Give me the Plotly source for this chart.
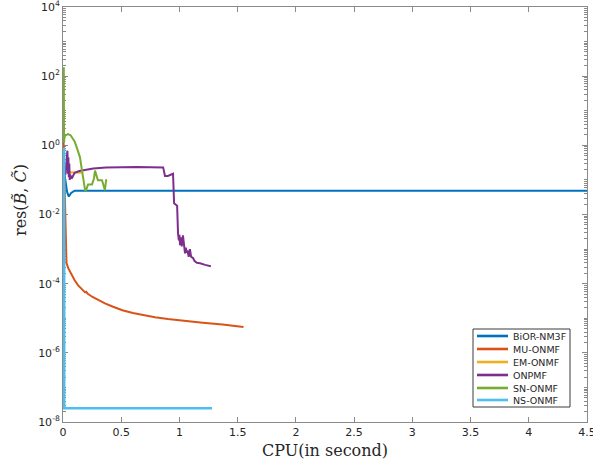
import plotly.graph_objects as go

# ---- data ----
bior_x = [0.006, 0.012, 0.02, 0.035, 0.05, 0.07, 0.1, 4.5]
bior_y = [0.2, 0.16, 0.1, 0.045, 0.033, 0.042, 0.049, 0.049]

mu_x = [0.004, 0.007, 0.012, 0.017, 0.022, 0.026, 0.03, 0.045, 0.06, 0.08, 0.1, 0.13, 0.16, 0.19, 0.2, 0.21, 0.25, 0.3,
        0.36, 0.43, 0.51, 0.6, 0.7, 0.79, 0.9, 1.07, 1.2, 1.37, 1.55]
mu_y = [1.6, 0.6, 0.05, 1.1e-2, 2e-3, 6e-4, 4e-4, 2.8e-4, 2.2e-4, 1.6e-4, 1.26e-4, 8.9e-5, 7.1e-5, 5.6e-5, 5.8e-5,
        5.2e-5, 4.2e-5, 3.4e-5, 2.7e-5, 2.15e-5, 1.7e-5, 1.41e-5, 1.2e-5, 1.07e-5, 9.5e-6, 8.1e-6, 7.4e-6, 6.6e-6, 5.6e-6]

em_x = [0.004, 0.05, 0.1, 0.16]
em_y = [0.17, 0.165, 0.16, 0.16]

onp_x = [0.02, 0.038, 0.042, 0.046, 0.05, 0.054, 0.058, 0.062, 0.075, 0.1, 0.14, 0.2, 0.26, 0.37, 0.46, 0.64, 0.86, 0.876,
         0.9, 0.945, 0.954, 0.98, 0.988, 0.995, 1.0, 1.005, 1.012, 1.02, 1.03, 1.038, 1.048, 1.055, 1.06, 1.07, 1.08,
         1.09, 1.1, 1.117, 1.13, 1.15, 1.177, 1.22, 1.27]
onp_y = [0.14, 0.7, 0.15, 0.45, 0.12, 0.3, 0.1, 0.14, 0.11, 0.16, 0.18, 0.2, 0.215, 0.23, 0.235, 0.235, 0.23, 0.13,
         0.13, 0.15, 0.021, 0.018, 0.0028, 0.0018, 0.0026, 0.0013, 0.0022, 0.0012, 0.0025, 0.0011, 0.00075, 0.0011,
         0.0008, 0.00085, 0.0006, 0.001, 0.0006, 0.00055, 0.00045, 0.0004, 0.00039, 0.00035, 0.00032]

sn_x = [0.007, 0.008, 0.009, 0.011, 0.017, 0.03, 0.043, 0.065, 0.086, 0.1, 0.112, 0.13, 0.146, 0.163, 0.177, 0.19, 0.198,
        0.215, 0.249, 0.266, 0.275, 0.292, 0.30, 0.335, 0.344, 0.36, 0.37, 0.378]
sn_y = [180.0, 10.0, 1.2, 1.5, 1.9, 2.05, 2.1, 1.95, 1.6, 1.3, 1.0, 0.7, 0.45, 0.19, 0.09, 0.05, 0.05, 0.074, 0.074,
        0.11, 0.186, 0.126, 0.098, 0.098, 0.074, 0.05, 0.098, 0.1]

ns_x = [0.009, 0.0095, 0.01, 0.0105, 1.28]
ns_y = [0.85, 1e-2, 1e-6, 2.5e-8, 2.5e-8]

names = ["BiOR-NM3F", "MU-ONMF", "EM-ONMF", "ONPMF", "SN-ONMF", "NS-ONMF"]
colors = ["#0072BD", "#D95319", "#EDB120", "#7E2F8E", "#77AC30", "#4DBEEE"]
xs = [bior_x, mu_x, em_x, onp_x, sn_x, ns_x]
ys = [bior_y, mu_y, em_y, onp_y, sn_y, ns_y]
widths = [2, 2, 2, 2, 2, 2.6]

ytick_exp = [-8, -6, -4, -2, 0, 2, 4]
xtick_vals = [0, 0.5, 1, 1.5, 2, 2.5, 3, 3.5, 4, 4.5]

# plot-area geometry (pixels) used to place the hand-drawn legend box
W, H = 593, 464
L, R, T, B = 63, 6, 7, 42
pw, ph = W - L - R, H - T - B


def px(xp):
    return (xp - L) / pw


def py(yp):
    return (H - B - yp) / ph


fig = go.Figure()
for x, y, n, c, w in zip(xs, ys, names, colors, widths):
    fig.add_trace(go.Scatter(x=x, y=y, mode="lines", name=n, showlegend=False,
                             line=dict(color=c, width=w)))

minor_vals = [m * 10 ** k for k in range(-8, 4) for m in range(1, 10)]

axcol = "#8a8a8a"
txtcol = "#262626"

shapes = [dict(type="rect", xref="paper", yref="paper",
               x0=px(473), x1=px(570), y0=py(407), y1=py(329),
               line=dict(color="#3a3a3a", width=1), fillcolor="white", layer="above")]
annotations = []
row_y = [336, 349, 362, 375, 388, 400]
for n, c, yy in zip(names, colors, row_y):
    shapes.append(dict(type="line", xref="paper", yref="paper",
                       x0=px(477), x1=px(508), y0=py(yy), y1=py(yy),
                       line=dict(color=c, width=2.6), layer="above"))
    annotations.append(dict(text=n, xref="paper", yref="paper", x=px(511), y=py(yy),
                            xanchor="left", yanchor="middle", showarrow=False,
                            font=dict(family="DejaVu Sans", size=9.5, color=txtcol)))

annotations.append(dict(text="res(<i>B̃</i>, <i>C̃</i>)", xref="paper", yref="paper",
                        x=px(20), y=py(200), xanchor="center", yanchor="middle",
                        textangle=-90, showarrow=False,
                        font=dict(family="DejaVu Serif", size=16, color=txtcol)))

fig.update_layout(
    width=W, height=H,
    margin=dict(l=L, r=R, t=T, b=B),
    paper_bgcolor="white", plot_bgcolor="white",
    font=dict(family="DejaVu Sans", size=11, color=txtcol),
    showlegend=False,
    shapes=shapes,
    annotations=annotations,
    xaxis=dict(range=[0, 4.5], tickmode="array", tickvals=xtick_vals,
               ticktext=[f"{v:g}" for v in xtick_vals], ticklabeloverflow="allow",
               automargin=False, layer="below traces",
               ticks="inside", ticklen=5, tickcolor=axcol,
               showline=True, linecolor=axcol, linewidth=1, mirror="ticks",
               showgrid=False, zeroline=False,
               title=dict(text="CPU(in second)", standoff=6,
                          font=dict(family="DejaVu Serif", size=16, color=txtcol))),
    yaxis=dict(type="log", range=[-8, 4], tickmode="array",
               tickvals=[10 ** e for e in ytick_exp],
               ticktext=[f"10<sup>{e}</sup>" for e in ytick_exp], ticklabeloverflow="allow",
               automargin=False, layer="below traces",
               ticks="inside", ticklen=5, tickcolor=axcol,
               minor=dict(tickmode="array", tickvals=minor_vals, ticks="inside",
                          ticklen=3, tickcolor=axcol, showgrid=False),
               showline=True, linecolor=axcol, linewidth=1, mirror="ticks",
               showgrid=False, zeroline=False),
)

fig.write_html("out.html")
